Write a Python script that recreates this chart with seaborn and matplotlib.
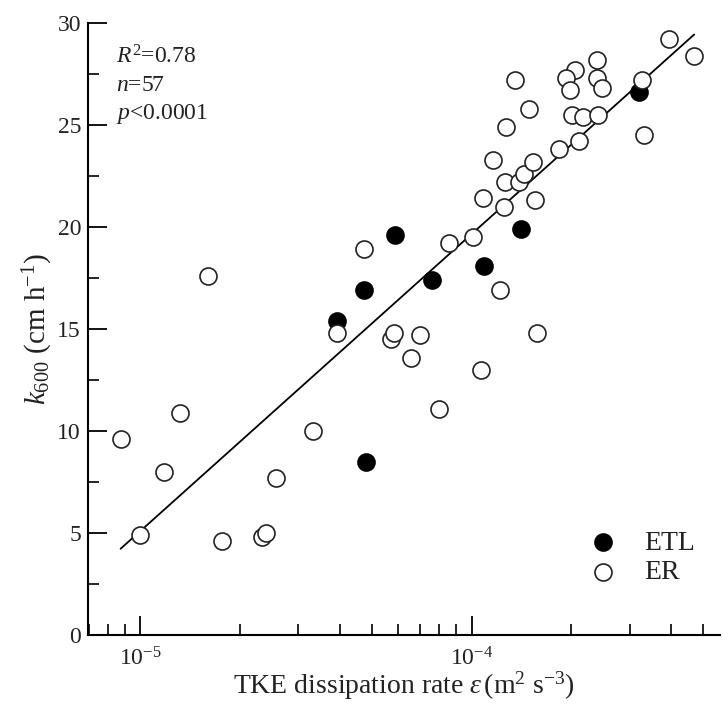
import matplotlib
matplotlib.use("Agg")
from matplotlib import pyplot as plt
from matplotlib.ticker import MultipleLocator, LogLocator, NullFormatter
import numpy as np
import pandas as pd
import seaborn as sns

# ETL (filled) points
etl_x = [3.94e-5, 4.75e-5, 5.89e-5, 4.81e-5, 7.6e-5, 1.09e-4, 1.41e-4, 3.2e-4]
etl_y = [15.4, 16.9, 19.6, 8.5, 17.4, 18.1, 19.9, 26.6]

# ER (open) points
er_x = [8.74e-6, 1.32e-5, 1.18e-5, 1.0e-5, 1.77e-5, 2.34e-5, 2.40e-5, 2.57e-5,
        1.60e-5, 3.32e-5, 3.94e-5, 4.75e-5, 5.71e-5, 5.85e-5, 6.55e-5, 6.97e-5,
        1.22e-4, 1.58e-4, 1.07e-4, 7.95e-5, 8.54e-5, 1.01e-4, 1.25e-4, 1.08e-4,
        1.55e-4, 1.26e-4, 1.39e-4, 1.44e-4, 1.53e-4, 1.16e-4, 1.83e-4, 2.11e-4,
        1.27e-4, 1.49e-4, 2.01e-4, 2.16e-4, 2.41e-4,
        3.94e-4, 4.69e-4, 3.27e-4, 3.31e-4, 2.39e-4, 2.05e-4, 1.92e-4, 2.39e-4,
        1.98e-4, 2.47e-4, 1.35e-4]
er_y = [9.6, 10.9, 8.0, 4.9, 4.6, 4.8, 5.0, 7.7,
        17.6, 10.0, 14.8, 18.9, 14.5, 14.8, 13.6, 14.7,
        16.9, 14.8, 13.0, 11.1, 19.2, 19.5, 21.0, 21.4,
        21.3, 22.2, 22.2, 22.6, 23.2, 23.3, 23.8, 24.2,
        24.9, 25.8, 25.5, 25.4, 25.5,
        29.2, 28.4, 27.2, 24.5, 28.2, 27.7, 27.3, 27.3,
        26.7, 26.8, 27.2]

stats_lines = ["$R^2$=0.78", "$n$=57", "$p$<0.0001"]

sns.set_style("ticks")
plt.rcParams["font.family"] = ["Liberation Serif", "DejaVu Serif"]
plt.rcParams["mathtext.fontset"] = "custom"
plt.rcParams["mathtext.rm"] = "Liberation Serif"
plt.rcParams["mathtext.it"] = "Liberation Serif:italic"
plt.rcParams["mathtext.bf"] = "Liberation Serif:bold"

etl = pd.DataFrame({"eps": etl_x, "k600": etl_y})
er = pd.DataFrame({"eps": er_x, "k600": er_y})
both = pd.concat([etl, er], ignore_index=True)

fig = plt.figure(figsize=(7.23, 7.05), dpi=100)
ax = fig.add_axes([0.1217, 0.0993, 0.8741, 0.8681])

# regression of k600 on log(eps)
sns.regplot(data=both, x="eps", y="k600", logx=True, ci=None, scatter=False,
            color="black", line_kws={"linewidth": 1.3}, ax=ax)

sns.scatterplot(data=etl, x="eps", y="k600", color="black", edgecolor="black",
                s=150, linewidth=1.2, label="ETL", ax=ax, zorder=3)
sns.scatterplot(data=er, x="eps", y="k600", color="white", edgecolor="#222222",
                s=150, linewidth=1.2, label="ER", ax=ax, zorder=3)

ax.set_xscale("log")
ax.set_xlim(6.97e-6, 5.61e-4)
ax.set_ylim(0, 30)
ax.yaxis.set_major_locator(MultipleLocator(5))
ax.yaxis.set_minor_locator(MultipleLocator(2.5))
ax.xaxis.set_minor_locator(LogLocator(base=10, subs=np.arange(2, 10)))
ax.xaxis.set_minor_formatter(NullFormatter())

ax.tick_params(which="major", direction="in", length=14, width=1.3,
               labelsize=17, color="black", labelcolor="#222222")
ax.tick_params(which="minor", direction="in", length=8, width=1.2, color="black")
ax.tick_params(axis="x", which="major", pad=9)
ax.tick_params(axis="y", which="major", pad=5)

for side in ["left", "bottom"]:
    ax.spines[side].set_linewidth(1.5)
    ax.spines[side].set_color("black")
sns.despine(ax=ax)

ax.set_xlabel(r"TKE dissipation rate $\varepsilon\,$(m$^{2}$ s$^{-3}$)",
              fontsize=20, color="#222222", labelpad=-1)
ax.set_ylabel(r"$k_{600}$ (cm h$^{-1}$)", fontsize=21, color="#222222", labelpad=2)

for i, txt in enumerate(stats_lines):
    ax.text(0.045, 0.944 - i * 0.046, txt, transform=ax.transAxes,
            fontsize=17, color="#222222", va="center", ha="left")

leg = ax.legend(loc="upper left", bbox_to_anchor=(0.731, 0.212), frameon=False,
                fontsize=20, handlelength=2.0, handletextpad=0.5,
                labelspacing=0.15, borderpad=0.4, markerscale=1.0)
for t in leg.get_texts():
    t.set_color("#222222")

fig.savefig("out.png", dpi=100)
